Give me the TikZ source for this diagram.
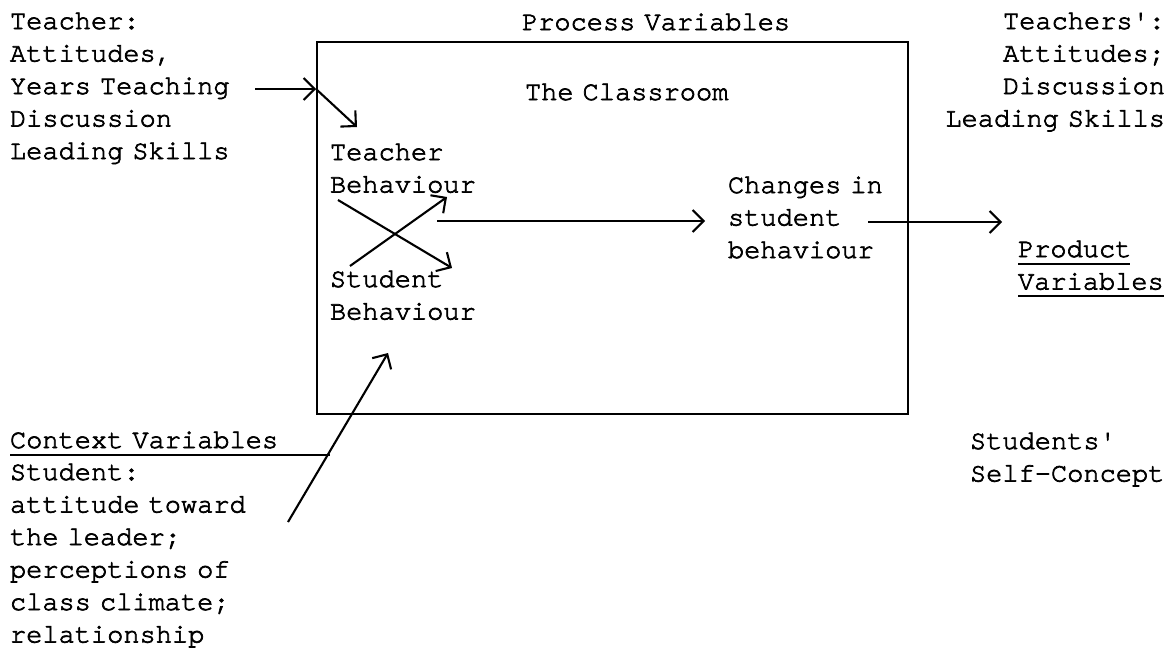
\documentclass[tikz,border=0pt]{standalone}
\usepackage{fontspec}
\newfontfamily\twfam{TeX Gyre Cursor}[FakeBold=2.5]
\newcommand\twf{\twfam\fontsize{27}{32.5}\selectfont\spaceskip=16.2pt\relax}
\usetikzlibrary{arrows.meta}
\begin{document}
\begin{tikzpicture}[x=1pt,y=-1pt,
  txt/.style={inner sep=0pt, outer sep=0pt, anchor=base west, align=left,
    text width=#1, font=\twf},
  rtxt/.style={inner sep=0pt, outer sep=0pt, anchor=base east, align=right,
    text width=#1, font=\twf},
  arr/.style={line width=2.1pt, -{Straight Barb[length=11pt,width=22pt]}},
  uline/.style={line width=1.7pt},
  frame/.style={draw, line width=2pt, inner sep=0pt, anchor=north west,
    minimum width=591pt, minimum height=372pt}]
\useasboundingbox (0,0) rectangle (1174,651);
% frame
\node[frame] (box) at (316,41) {};
% texts
\node[txt=240pt] (tch) at (10,29) {Teacher:\\Attitudes,\\Years Teaching\\Discussion\\Leading Skills};
\node[txt=285pt] (proc) at (522,30) {Process Variables};
\node[txt=220pt] (room) at (525,100) {The Classroom};
\node[txt=155pt] (tb) at (330,160) {Teacher\\Behaviour};
\node[txt=155pt] (sb) at (330,287) {Student\\Behaviour};
\node[txt=170pt] (chg) at (728,193) {Changes in\\student\\behaviour};
\node[rtxt=240pt] (tout) at (1165,29) {Teachers':\\Attitudes;\\Discussion\\Leading Skills};
\node[txt=155pt] (prod) at (1018,257) {Product\\Variables};
\node[txt=285pt] (ctx) at (10,448) {Context Variables};
\node[txt=245pt] (stu) at (10,480) {Student:\\attitude toward\\the leader;\\perceptions of\\class climate;\\relationship};
\node[txt=205pt] (self) at (970,449) {Students'\\Self-Concept};
% underlines
\coordinate (ctxu) at (10,455);
\draw[uline] (ctxu) -- (330,455);
\coordinate (produ) at (1018,264);
\draw[uline] (produ) -- (1130,264);
\coordinate (varu) at (1018,296);
\draw[uline] (varu) -- (1164,296);
% arrows
\coordinate (a1s) at (255,89);
\coordinate (a1e) at (box.west |- a1s);
\coordinate (a2e) at (357,127);
\draw[arr] (a1s) -- (a1e);
\draw[arr] (a1e) -- (a2e);
\coordinate (x1s) at (338,200);
\coordinate (x1e) at (452,268);
\coordinate (x2s) at (350,266);
\coordinate (x2e) at (447,197);
\draw[arr] (x1s) -- (x1e);
\draw[arr] (x2s) -- (x2e);
\coordinate (ls) at (437,221);
\coordinate (le) at (705,221);
\draw[arr] (ls) -- (le);
\coordinate (rs) at (868,222);
\coordinate (re) at (1002,222);
\draw[arr] (rs) -- (re);
\coordinate (cs) at (288,522);
\coordinate (ce) at (388,353);
\draw[arr] (cs) -- (ce);
\end{tikzpicture}
\end{document}
